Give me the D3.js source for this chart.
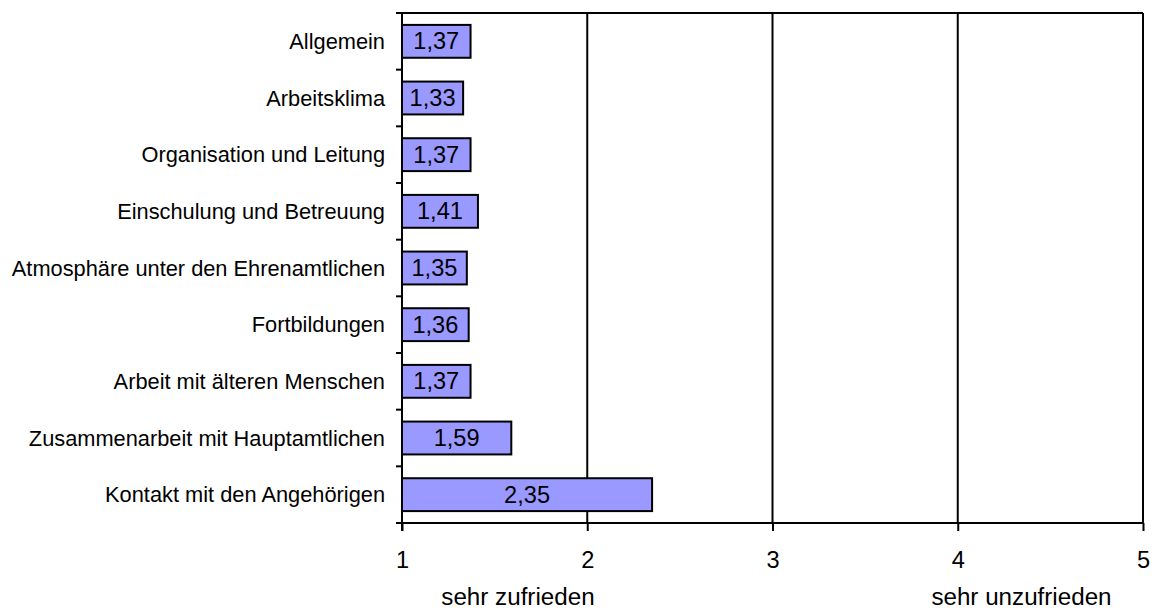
<!DOCTYPE html>
<html>
<head>
<meta charset="utf-8">
<script src="https://cdn.jsdelivr.net/npm/d3@7"></script>
<style>
  html, body { margin: 0; padding: 0; background: #fff; }
  svg text { font-family: "Liberation Sans", Arial, sans-serif; fill: #000; }
</style>
</head>
<body>
<svg id="chart" width="1157" height="611"></svg>
<script>
// Zufriedenheit der Ehrenamtlichen (Mittelwerte, 1 = sehr zufrieden, 5 = sehr unzufrieden)
const categories = [
  "Allgemein",
  "Arbeitsklima",
  "Organisation und Leitung",
  "Einschulung und Betreuung",
  "Atmosphäre unter den Ehrenamtlichen",
  "Fortbildungen",
  "Arbeit mit älteren Menschen",
  "Zusammenarbeit mit Hauptamtlichen",
  "Kontakt mit den Angehörigen"
];
const values = [1.37, 1.33, 1.37, 1.41, 1.35, 1.36, 1.37, 1.59, 2.35];
const xTicks = [1, 2, 3, 4, 5];
const scaleLabels = [
  { text: "sehr zufrieden", at: 1.626 },
  { text: "sehr unzufrieden", at: 4.344 }
];

const svg = d3.select("#chart");
const plotLeft = 402, plotRight = 1143, plotTop = 13, plotBottom = 523;
const catFont = 21.8, numFont = 23.6, titleFont = 24.2;

const x = d3.scaleLinear().domain([1, 5]).range([plotLeft, plotRight]);
const y = d3.scaleBand().domain(categories).range([plotTop, plotBottom])
  .paddingInner(0.42).paddingOuter(0.21);

// vertical gridlines and frame
svg.append("g").selectAll("line").data(xTicks.slice(1)).join("line")
  .attr("x1", d => x(d)).attr("x2", d => x(d))
  .attr("y1", plotTop).attr("y2", plotBottom)
  .attr("stroke", "#000").attr("stroke-width", 2);
svg.append("line")
  .attr("x1", plotLeft - 6).attr("x2", plotRight)
  .attr("y1", plotTop).attr("y2", plotTop)
  .attr("stroke", "#000").attr("stroke-width", 2);

// bars
svg.append("g").selectAll("rect").data(values).join("rect")
  .attr("x", x(1))
  .attr("y", (d, i) => y(categories[i]))
  .attr("width", d => x(d) - x(1))
  .attr("height", y.bandwidth())
  .attr("fill", "#9999FF")
  .attr("stroke", "#000").attr("stroke-width", 2);

// value labels
svg.append("g").selectAll("text").data(values).join("text")
  .attr("x", d => (x(1) + x(d)) / 2)
  .attr("y", (d, i) => y(categories[i]) + y.bandwidth() / 2)
  .attr("text-anchor", "middle")
  .attr("dominant-baseline", "central")
  .style("font-size", numFont + "px")
  .text(d => d.toFixed(2).replace(".", ","));

// category axis with ticks at band boundaries
const step = y.step();
const boundaries = d3.range(categories.length + 1).map(i => plotTop + i * step);
const yAxis = svg.append("g");
yAxis.append("line")
  .attr("x1", plotLeft).attr("x2", plotLeft).attr("y1", plotTop).attr("y2", plotBottom + 8)
  .attr("stroke", "#000").attr("stroke-width", 2);
yAxis.selectAll("line.tick").data(boundaries).join("line")
  .attr("class", "tick")
  .attr("x1", plotLeft - 6).attr("x2", plotLeft)
  .attr("y1", d => d).attr("y2", d => d)
  .attr("stroke", "#000").attr("stroke-width", 2);
yAxis.selectAll("text").data(categories).join("text")
  .attr("x", plotLeft - 17)
  .attr("y", d => y(d) + y.bandwidth() / 2)
  .attr("text-anchor", "end")
  .attr("dominant-baseline", "central")
  .style("font-size", catFont + "px")
  .text(d => d);

// value axis
const xAxis = d3.axisBottom(x).tickValues(xTicks).tickSize(8).tickPadding(20)
  .tickFormat(d3.format("d"));
const gx = svg.append("g").attr("transform", `translate(0,${plotBottom})`).call(xAxis);
gx.select(".domain").attr("stroke", "#000").attr("stroke-width", 2)
  .attr("d", `M${plotLeft - 6},0H${plotRight}`);
gx.selectAll(".tick line").attr("stroke", "#000").attr("stroke-width", 2);
gx.selectAll(".tick text").style("font-size", numFont + "px")
  .style("font-family", '"Liberation Sans", Arial, sans-serif');

// scale anchors
svg.append("g").selectAll("text").data(scaleLabels).join("text")
  .attr("x", d => x(d.at))
  .attr("y", 605)
  .attr("text-anchor", "middle")
  .style("font-size", titleFont + "px")
  .text(d => d.text);
</script>
</body>
</html>
